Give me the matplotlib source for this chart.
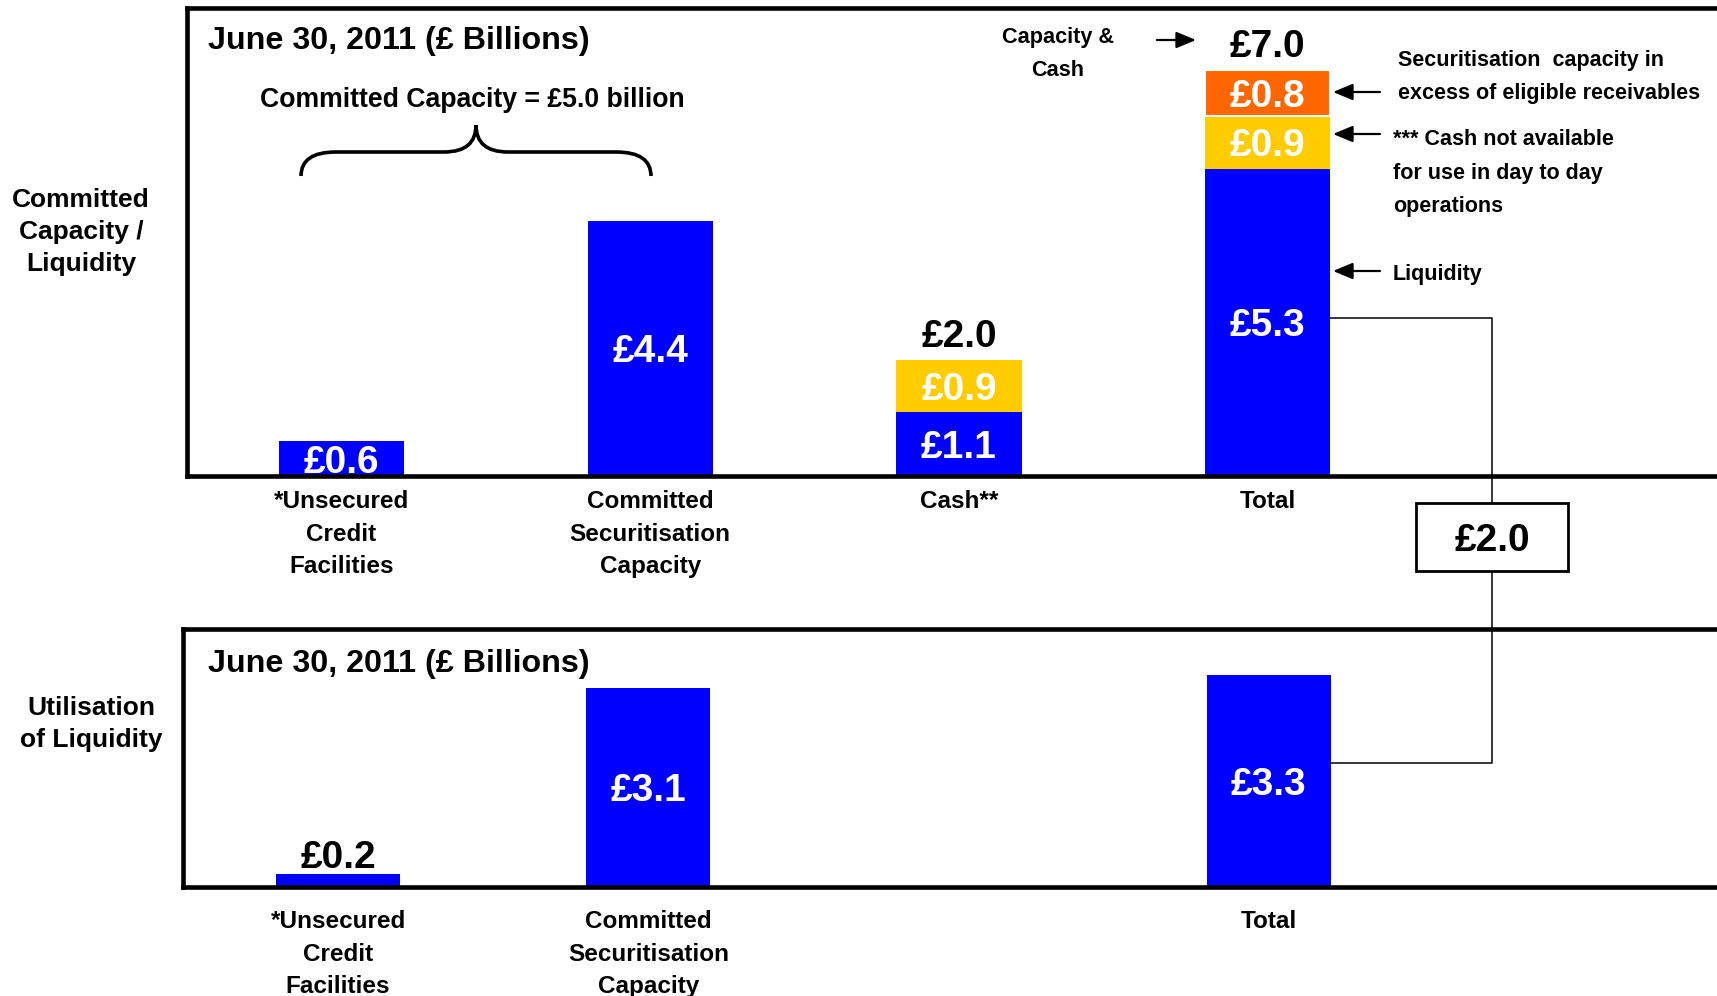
import numpy as np
import matplotlib.pyplot as plt
from matplotlib.lines import Line2D
from matplotlib.patches import Rectangle, PathPatch, FancyArrowPatch
from matplotlib.path import Path

plt.rcParams['font.family'] = ['Liberation Sans', 'DejaVu Sans']
plt.rcParams['font.weight'] = 'bold'

# ---- data (GBP billions, June 30, 2011) ----
top_categories = ["*Unsecured\nCredit\nFacilities", "Committed\nSecuritisation\nCapacity",
                  "Cash**", "Total"]
liquidity = [0.6, 4.4, 1.1, 5.3]
restricted_cash = [0.0, 0.0, 0.9, 0.9]
excess_capacity = [0.0, 0.0, 0.0, 0.8]
committed_capacity = 5.0

bottom_categories = ["*Unsecured\nCredit\nFacilities", "Committed\nSecuritisation\nCapacity", "Total"]
bottom_positions = [0, 1, 3]
utilised = [0.2, 3.1, 3.3]

BLUE = "#0000FF"
YELLOW = "#FFCC00"
ORANGE = "#FF6600"

W, H = 1717, 996
fig = plt.figure(figsize=(W / 100, H / 100), dpi=100)


def fx(x):
    return x / W


def fy(y):
    return 1 - y / H


def frame(left, top, bottom):
    ax = fig.add_axes([fx(left), fy(bottom), 1 - fx(left), (bottom - top) / H])
    for s in ("left", "top", "bottom"):
        ax.spines[s].set_linewidth(3.3)
    ax.spines["right"].set_visible(False)
    ax.set_yticks([])
    ax.tick_params(axis="x", length=0)
    return ax


def money(v):
    return f"£{v:.1f}"


# ---- top panel: committed capacity / liquidity ----
top = frame(187, 8, 476)
top.set_xlim(-0.5, -0.5 + (W - 187) / 308.8)
top.set_ylim(0, 468 / 58)

x = np.arange(len(top_categories))
bw = 0.405
liq = np.array(liquidity)
rc = np.array(restricted_cash)
ex = np.array(excess_capacity)

top.bar(x, liq, bw, color=BLUE)
m = rc > 0
top.bar(x[m], rc[m], bw, bottom=liq[m], color=YELLOW)
m2 = ex > 0
top.bar(x[m2], ex[m2], bw, bottom=(liq + rc)[m2], color=ORANGE,
        edgecolor="white", linewidth=1.5)

val_kw = dict(ha="center", va="center_baseline", fontsize=28, fontweight="bold")
for i in x:
    top.text(i, liq[i] / 2, money(liq[i]), color="white", **val_kw)
    if rc[i] > 0:
        top.text(i, liq[i] + rc[i] / 2, money(rc[i]), color="white", **val_kw)
    if ex[i] > 0:
        top.text(i, liq[i] + rc[i] + ex[i] / 2, money(ex[i]), color="white", **val_kw)
    if rc[i] + ex[i] > 0:
        tot = liq[i] + rc[i] + ex[i]
        top.annotate(money(tot), (i, tot), xytext=(0, 19.5), textcoords="offset points",
                     color="black", **val_kw)

top.set_xticks(x, top_categories, fontsize=17.5, linespacing=1.53)
top.tick_params(axis="x", pad=10.2)

# ---- bottom panel: utilisation of liquidity ----
bot = frame(183, 629, 887)
bot.set_xlim(-0.5, -0.5 + (W - 183) / 310.2)
bot.set_ylim(0, 258 / 64.3)
bot.bar(bottom_positions, utilised, 0.4, color=BLUE)
for p, v in zip(bottom_positions, utilised):
    if v < 0.5:
        bot.annotate(money(v), (p, v), xytext=(0, 14.5), textcoords="offset points",
                     color="black", **val_kw)
    else:
        bot.text(p, v / 2, money(v), color="white", **val_kw)
bot.set_xticks(bottom_positions, bottom_categories, fontsize=17.5, linespacing=1.53)
bot.tick_params(axis="x", pad=16.7)

# ---- titles and side labels ----
title = "June 30, 2011 (£ Billions)"
fig.text(fx(208), fy(38), title, fontsize=23.2, va="center_baseline")
fig.text(fx(208), fy(660), title, fontsize=23.2, va="center_baseline")
fig.text(fx(81), fy(232), "Committed\nCapacity /\nLiquidity", fontsize=19,
         ha="center", va="center", linespacing=1.43)
fig.text(fx(91), fy(724), "Utilisation\nof Liquidity", fontsize=19,
         ha="center", va="center", linespacing=1.43)

# ---- brace over committed facilities ----
L, R, C = 301, 651, 476
ye, ym, yt = 176, 152, 125
pts = [(L, ye), (L, ym), (L + 35, ym), (C - 32, ym), (C, ym), (C, yt),
       (C, ym), (C + 32, ym), (R - 35, ym), (R, ym), (R, ye)]
codes = [Path.MOVETO, Path.CURVE3, Path.CURVE3, Path.LINETO, Path.CURVE3, Path.CURVE3,
         Path.CURVE3, Path.CURVE3, Path.LINETO, Path.CURVE3, Path.CURVE3]
brace = Path([(fx(a), fy(b)) for a, b in pts], codes)
fig.add_artist(PathPatch(brace, transform=fig.transFigure, fill=False,
                         linewidth=2.6, edgecolor="black", capstyle="butt"))
fig.text(fx(472), fy(97), f"Committed Capacity = £{committed_capacity:.1f} billion",
         fontsize=19.2, ha="center", va="center_baseline")

# ---- right-hand annotations ----
fig.text(fx(1058), fy(54), "Capacity &\nCash", fontsize=15.6, ha="center", va="center",
         linespacing=1.76)
fig.text(fx(1398), fy(77), "Securitisation  capacity in\nexcess of eligible receivables",
         fontsize=15.5, ha="left", va="center", linespacing=1.74)
fig.text(fx(1393), fy(173), "*** Cash not available\nfor use in day to day\noperations",
         fontsize=15.5, ha="left", va="center", linespacing=1.76)
fig.text(fx(1393), fy(272), "Liquidity", fontsize=15.5, ha="left", va="center_baseline")

arrow_kw = dict(transform=fig.transFigure, arrowstyle="-|>,head_length=0.6,head_width=0.25",
                mutation_scale=20, linewidth=1.6, color="black", shrinkA=0, shrinkB=0)
fig.add_artist(FancyArrowPatch((fx(1157), fy(40)), (fx(1196), fy(40)), **arrow_kw))
for yy in (92, 134, 271):
    fig.add_artist(FancyArrowPatch((fx(1380), fy(yy)), (fx(1333), fy(yy)), **arrow_kw))

# ---- connector between the two totals with headroom box ----
to_fig = fig.transFigure.inverted()
p1 = top.transData.transform((3 + bw / 2, 2.72))
xc = top.transData.transform((3.726, 0))[0]
p4 = bot.transData.transform((3 + 0.2, 1.93))
path_px = np.array([p1, (xc, p1[1]), (xc, p4[1]), p4])
path_fig = to_fig.transform(path_px)
fig.add_artist(Line2D(path_fig[:, 0], path_fig[:, 1], transform=fig.transFigure,
                      color="black", linewidth=1.1, zorder=5))
fig.add_artist(Rectangle((fx(1416), fy(571)), 152 / W, 68 / H, transform=fig.transFigure,
                         facecolor="white", edgecolor="black", linewidth=2.0, zorder=6))
headroom = liquidity[-1] - utilised[-1]
fig.text(fx(1492), fy(537), money(headroom), fontsize=28, ha="center",
         va="center_baseline", zorder=7)

fig.savefig("out.png", dpi=100)
